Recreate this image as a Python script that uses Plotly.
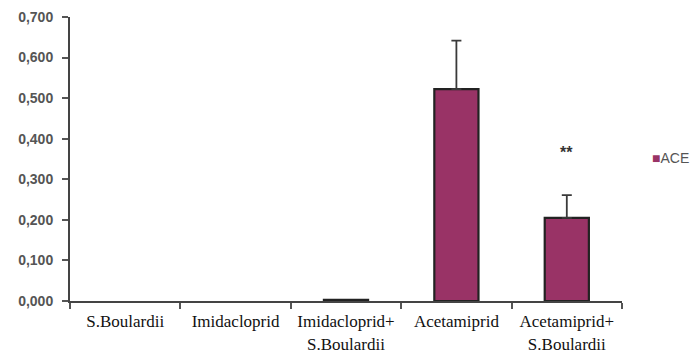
import plotly.graph_objects as go

categories = ["S.Boulardii", "Imidacloprid", "Imidacloprid+<br>S.Boulardii",
              "Acetamiprid", "Acetamiprid+<br>S.Boulardii"]
ace_values = [0.0, 0.0, 0.003, 0.522, 0.205]
ace_err_up = [None, None, None, 0.120, 0.056]
series_name = "ACE"
sig_category = "Acetamiprid+<br>S.Boulardii"
sig_text = "**"
sig_y = 0.366
y_ticks = [0.0, 0.1, 0.2, 0.3, 0.4, 0.5, 0.6, 0.7]

BAR = "#993366"
outline_w = [2.2 if v > 0 else 0 for v in ace_values]

# points that carry an error bar
err_idx = [i for i, e in enumerate(ace_err_up) if e is not None]
err_x = [categories[i] for i in err_idx]
err_y = [ace_values[i] for i in err_idx]
err_up = [ace_err_up[i] for i in err_idx]

fig = go.Figure()
fig.add_trace(go.Bar(
    x=categories, y=ace_values, name=series_name, width=0.4,
    marker=dict(color=BAR, line=dict(color="#222222", width=outline_w)),
    showlegend=False,
))
fig.add_trace(go.Scatter(
    x=err_x, y=err_y, mode="markers", marker=dict(size=1, opacity=0),
    error_y=dict(type="data", symmetric=False, array=err_up,
                 arrayminus=[0] * len(err_up),
                 color="#3a3a3a", thickness=1.8, width=5),
    showlegend=False, hoverinfo="skip",
))

fig.add_annotation(x=sig_category, y=sig_y, text=sig_text, showarrow=False,
                   xref="x", yref="y", yanchor="middle",
                   font=dict(family="Liberation Sans, Arial", size=16, color="#333333", weight="bold"))

fig.add_annotation(xref="paper", yref="paper", x=1.051, y=0.505, xanchor="left", yanchor="middle",
                   showarrow=False,
                   text=f"<span style='color:{BAR};font-size:14px'>■</span>{series_name}",
                   font=dict(family="Liberation Sans, Arial", size=14, color="#555555"))

fig.update_layout(
    width=692, height=354,
    margin=dict(l=70, r=70, t=17, b=53),
    paper_bgcolor="white", plot_bgcolor="white",
    separators=",.",
    bargap=0.6,
    xaxis=dict(
        type="category", categoryorder="array", categoryarray=categories,
        showgrid=False, zeroline=False, automargin=False,
        showline=True, linecolor="#444444", linewidth=2,
        ticks="outside", ticklen=6, tickwidth=1.5, tickcolor="#555555",
        tickson="boundaries", ticklabelstandoff=4,
        tickfont=dict(family="Liberation Serif, Times New Roman", size=17, color="#111111"),
    ),
    yaxis=dict(
        range=[0, 0.7], tickvals=y_ticks, tickformat=".3f", automargin=False,
        showgrid=False, zeroline=False,
        showline=True, linecolor="#444444", linewidth=2,
        ticks="outside", ticklen=6, tickwidth=1.5, tickcolor="#555555",
        ticklabelstandoff=6,
        tickfont=dict(family="Liberation Sans, Arial", size=14, color="#555555", weight="bold"),
    ),
)

fig.write_html("out.html")
